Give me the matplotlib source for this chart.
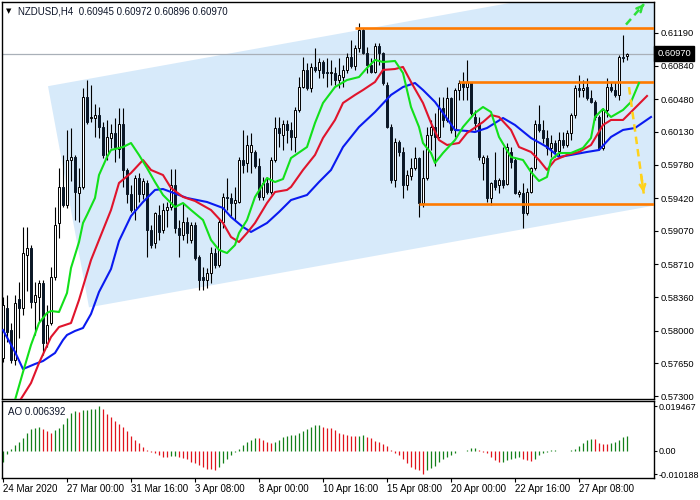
import matplotlib
matplotlib.use('Agg')
import matplotlib.pyplot as plt
from matplotlib.patches import Polygon

plt.rcParams['font.family'] = ['Liberation Sans', 'DejaVu Sans']

# ---------------- data (NZDUSD H4) ----------------
opens = [.5771,.5824,.5801,.5769,.5834,.5824,.5881,.5889,.5831,.5836,
         .5851,.5787,.5808,.5858,.5915,.5954,.5935,.5983,.5986,.5948,
         .5954,.6050,.6028,.6028,.6031,.6018,.5988,.6007,.6012,.5995,
         .6021,.5972,.5947,.5929,.5964,.5946,.5958,.5908,.5894,.5924,
         .5908,.5929,.5932,.5956,.5910,.5903,.5916,.5897,.5913,.5879,
         .5857,.5854,.5862,.5883,.5870,.5916,.5943,.5942,.5937,.5938,
         .5983,.5980,.5992,.5992,.5976,.5943,.5958,.5949,.5983,.6017,
         .6010,.6021,.6015,.6008,.6036,.6061,.6079,.6060,.6083,.6079,
         .6088,.6077,.6076,.6076,.6069,.6072,.6079,.6093,.6084,.6103,
         .6122,.6098,.6085,.6077,.6105,.6098,.6063,.6018,.5962,.6002,
         .5991,.5956,.5966,.5974,.5985,.5937,.5964,.6010,.6018,.6008,
         .6039,.6026,.6049,.6015,.6058,.6065,.6061,.6066,.6029,.6023,
         .5980,.5985,.5942,.5961,.5956,.5961,.5957,.5991,.5983,.5946,
         .5948,.5926,.5949,.5974,.6021,.6015,.6007,.5996,.6001,.5993,
         .6004,.5999,.6012,.6031,.6060,.6058,.6061,.6049,.6045,.6029,
         .5996,.6036,.6061,.6058,.6053,.6093,.60945]
highs = [.5836,.5838,.5808,.5838,.5852,.5911,.5911,.5892,.5852,.5854,
         .5854,.5827,.5868,.5933,.5974,.5988,.6015,.6017,.5988,.5974,
         .6060,.6069,.6063,.6043,.6040,.6024,.6026,.6021,.6028,.6039,
         .6039,.5974,.5956,.5967,.5969,.5964,.5962,.5913,.5927,.5935,
         .5937,.5938,.5973,.5973,.5919,.5937,.5922,.5916,.5916,.5881,
         .5868,.5867,.5890,.5889,.5921,.5948,.5964,.5948,.5954,.5986,
         .6015,.6010,.6012,.5994,.5985,.5965,.5965,.5986,.6029,.6029,
         .6026,.6026,.6024,.6040,.6072,.6093,.6087,.6087,.6103,.6092,
         .6090,.6092,.6090,.6083,.6092,.6085,.6098,.6112,.6106,.6130,
         .6124,.6104,.6092,.6108,.6108,.6099,.6066,.6021,.6007,.6004,
         .5997,.5972,.5985,.5997,.5986,.5994,.6018,.6026,.6033,.6050,
         .6050,.6061,.6050,.6060,.6069,.6077,.6090,.6067,.6036,.6029,
         .5988,.5988,.5959,.5992,.5964,.5997,.6001,.5997,.5986,.5951,
         .5958,.5953,.5975,.6026,.6042,.6026,.6015,.6010,.6004,.6013,
         .6013,.6015,.6033,.6063,.6074,.6069,.6071,.6058,.6047,.6031,
         .6039,.6071,.6066,.6067,.6095,.6117,.60972]
lows = [.5766,.5788,.5765,.5763,.5792,.5817,.5842,.5824,.5795,.5809,
        .5774,.5783,.5806,.5854,.5899,.5933,.5931,.5960,.5919,.5916,
        .5952,.6021,.6024,.6008,.6007,.5985,.5983,.5996,.5981,.5985,
        .5954,.5937,.5927,.5919,.5938,.5941,.5879,.5889,.5889,.5897,
        .5905,.5911,.5929,.5905,.5879,.5897,.5894,.5894,.5876,.5844,
        .5844,.5846,.5851,.5867,.5868,.5910,.5929,.5923,.5919,.5937,
        .5969,.5970,.5969,.5974,.5940,.5940,.5947,.5946,.5981,.5997,
        .5994,.6001,.5994,.5991,.6034,.6060,.6058,.6056,.6077,.6071,
        .6071,.6061,.6063,.6063,.6060,.6061,.6076,.6082,.6079,.6099,
        .6096,.6076,.6076,.6076,.6085,.6063,.6017,.5958,.5954,.5987,
        .5942,.5951,.5962,.5972,.5922,.5933,.5962,.5994,.5976,.6006,
        .6018,.6024,.6012,.6008,.6047,.6047,.6047,.6031,.6015,.5983,
        .5962,.5938,.5935,.5951,.5948,.5953,.5956,.5974,.5946,.5943,
        .5910,.5924,.5948,.5972,.6013,.6001,.5988,.5986,.5986,.5986,
        .5996,.5997,.6004,.6028,.6050,.6050,.6047,.6044,.6026,.5994,
        .5994,.6029,.6056,.6050,.6047,.6088,.60896]
closes = [.5827,.5799,.5769,.5830,.5824,.5883,.5889,.5831,.5838,.5851,
          .5787,.5806,.5858,.5913,.5954,.5935,.5983,.5986,.5949,.5954,
          .6050,.6024,.6029,.6031,.6018,.5988,.6008,.6012,.5997,.6021,
          .5972,.5946,.5929,.5964,.5946,.5960,.5908,.5892,.5926,.5906,
          .5929,.5933,.5956,.5910,.5903,.5916,.5905,.5913,.5878,.5854,
          .5854,.5862,.5883,.5870,.5916,.5943,.5942,.5937,.5940,.5983,
          .5978,.5999,.5999,.5976,.5943,.5958,.5949,.5983,.6017,.6012,
          .6021,.6015,.6008,.6036,.6061,.6079,.6060,.6083,.6079,.6088,
          .6076,.6076,.6077,.6069,.6074,.6079,.6093,.6084,.6103,.6122,
          .6098,.6085,.6077,.6105,.6098,.6065,.6018,.5962,.6002,.5991,
          .5956,.5967,.5974,.5985,.5937,.5964,.6010,.6018,.6008,.6039,
          .6026,.6049,.6015,.6058,.6065,.6061,.6066,.6033,.6023,.5986,
          .5986,.5942,.5958,.5954,.5961,.5956,.5997,.5981,.5948,.5949,
          .5926,.5949,.5974,.6021,.6015,.6007,.5996,.6001,.5993,.6004,
          .5999,.6012,.6031,.6060,.6058,.6060,.6049,.6045,.6029,.5996,
          .6036,.6061,.6058,.6053,.6093,.6092,.60970]

# Alligator lines (bar index, value)
jaw_idx = [0,3,5,8,10,13,15,16,18,20,22,24,27,29,32,35,38,40,42,46,51,55,57,60,62,66,69,72,76,79,
           82,85,89,93,97,100,103,105,108,110,113,116,118,121,125,128,132,136,139,142,146,149,152,155,158,162]
jaw_val = [.58007,.57772,.57589,.57643,.57675,.57761,.57900,.57954,.57997,.58029,.58179,.58415,.58661,
           .58961,.59229,.59379,.59508,.59518,.59486,.59422,.59379,.59315,.59218,.59111,.59058,.59154,
           .59272,.59400,.59454,.59593,.59722,.59968,.60183,.60343,.60526,.60611,.60654,.60579,.60451,
           .60333,.60151,.60140,.60129,.60172,.60279,.60204,.60065,.59968,.59861,.59883,.59915,.59936,
           .60076,.60151,.60172,.60290]
teeth_idx = [4,7,9,12,14,17,19,22,24,27,29,32,35,37,40,42,45,48,52,55,57,59,61,63,66,68,71,72,75,78,
             80,83,85,88,90,93,95,98,100,102,105,107,109,111,114,116,120,122,124,127,129,132,134,136,
             138,141,144,147,150,152,155,157,161]
teeth_val = [.57236,.57439,.57654,.57932,.58039,.58082,.58329,.58757,.58972,.59293,.59583,.59690,.59829,
             .59722,.59668,.59529,.59433,.59390,.59293,.59154,.59004,.58950,.59047,.59154,.59368,.59486,
             .59508,.59540,.59722,.59883,.60065,.60258,.60440,.60526,.60579,.60665,.60794,.60804,.60826,
             .60665,.60440,.60226,.60043,.59990,.60011,.60118,.60236,.60311,.60290,.60151,.59968,.59915,
             .59829,.59722,.59829,.59883,.59915,.59990,.60204,.60258,.60258,.60343,.60515]
lips_idx = [3,5,7,9,11,12,14,16,17,19,20,21,23,24,26,27,30,32,34,36,38,40,43,45,47,50,52,54,56,58,
            59,61,63,66,68,70,72,76,78,80,83,86,89,91,93,95,98,100,102,104,105,107,108,110,113,115,
            118,120,122,124,127,130,132,134,136,137,139,142,145,147,148,150,152,155,157,159]
lips_val = [.57257,.57557,.57847,.58082,.58190,.58211,.58200,.58404,.58672,.58950,.59154,.59240,.59422,
            .59668,.59861,.59936,.59968,.60011,.59883,.59743,.59593,.59454,.59325,.59368,.59293,.59186,
            .58972,.58865,.58832,.58918,.59047,.59186,.59433,.59636,.59593,.59625,.59850,.59968,.60226,
            .60440,.60611,.60686,.60718,.60815,.60901,.60879,.60890,.60761,.60397,.60183,.60011,.59904,
            .59797,.59904,.60043,.60183,.60333,.60397,.60343,.60076,.59861,.59829,.59700,.59604,.59647,
            .59829,.59904,.59904,.59958,.60065,.60290,.60376,.60290,.60365,.60451,.60654]

# Awesome Oscillator
ao_values = [-0.0047,-0.0013,0.0009,0.0028,0.0041,0.0055,0.0077,0.0095,0.0102,0.0106,
             0.0098,0.0088,0.0077,0.0091,0.0102,0.0116,0.0145,0.0166,0.0176,0.0170,
             0.0177,0.0180,0.0183,0.0184,0.019467,0.0184,0.0163,0.0147,0.0130,0.0119,
             0.0106,0.0085,0.0064,0.0050,0.0034,0.0017,0.0003,-0.0004,-0.0009,-0.0018,
             -0.0026,-0.0028,-0.0023,-0.0021,-0.0026,-0.0030,-0.0037,-0.0047,-0.0054,-0.0061,
             -0.0068,-0.0077,-0.0079,-0.0085,-0.0071,-0.0054,-0.0033,-0.0018,-0.0004,0.0010,
             0.0024,0.0038,0.0050,0.0057,0.0055,0.0048,0.0038,0.0034,0.0041,0.0050,
             0.0060,0.0067,0.0069,0.0070,0.0077,0.0088,0.0098,0.0106,0.0112,0.0113,
             0.0106,0.0102,0.0101,0.0091,0.0078,0.0074,0.0070,0.0067,0.0066,0.0067,
             0.0071,0.0062,0.0055,0.0045,0.0041,0.0031,0.0021,0.0006,-0.0009,-0.0018,
             -0.0033,-0.0054,-0.0071,-0.0079,-0.0085,-0.010188,-0.0085,-0.0075,-0.0064,-0.0047,
             -0.0033,-0.0026,-0.0016,-0.0009,-0.0002,0.0001,0.0006,0.0014,0.0015,0.0006,
             -0.0004,-0.0011,-0.0028,-0.0040,-0.0047,-0.0046,-0.0040,-0.0033,-0.0030,-0.0026,
             -0.0033,-0.0040,-0.0043,-0.0033,-0.0018,-0.0009,-0.0004,0.0003,0.0004,0.0002,
             0.0001,0.00005,0.0003,0.0010,0.0021,0.0035,0.0048,0.0052,0.0051,0.0034,
             0.0031,0.0030,0.0034,0.0038,0.0050,0.0062,0.006392]

date_ticks = [0, 16, 32, 48, 64, 80, 96, 112, 128, 144]
date_labels = ['24 Mar 2020', '27 Mar 00:00', '31 Mar 16:00', '3 Apr 08:00', '8 Apr 00:00',
               '10 Apr 16:00', '15 Apr 08:00', '20 Apr 00:00', '22 Apr 16:00', '27 Apr 08:00']
price_ticks = [0.61190, 0.60840, 0.60480, 0.60130, 0.59780, 0.59420,
               0.59070, 0.58710, 0.58360, 0.58000, 0.57650, 0.57300]
ao_ticks = [0.019467, 0.0, -0.010188]
ao_tick_labels = ['0.019467', '0.00', '-0.010188']

level_values = [0.6124, 0.6067, 0.5936]
level_start = [88, 114, 104]
channel_x = [11.25, 21.5, 220, 220]
channel_y = [0.6062, 0.5825, 0.59782, 0.62232]
arrow_up = [(155.75, 0.6128), (160.25, 0.6150)]
arrow_down = [(156.5, 0.6061), (160.25, 0.5945)]
last_price = 0.60970
header = 'NZDUSD,H4  0.60945 0.60972 0.60896 0.60970'

# ---------------- figure ----------------
W, H = 700, 500
fig = plt.figure(figsize=(7, 5), dpi=100)
ax = fig.add_axes([2/W, 1-399/H, 652/W, 397/H])
ax2 = fig.add_axes([2/W, 1-478/H, 652/W, 77/H])

XL = (-0.25, 162.75)
n = len(closes)
idx = list(range(n))

# channel
ax.add_patch(Polygon(list(zip(channel_x, channel_y)), closed=True,
                     facecolor='#d7eafa', edgecolor='none', zorder=0))
# bid line
ax.axhline(last_price, color='#a9b0b8', lw=0.9, zorder=1)

# candles
ax.vlines(idx, lows, highs, colors='#000000', lw=0.8, zorder=2)
bull = [i for i in idx if closes[i] >= opens[i]]
bear = [i for i in idx if closes[i] < opens[i]]
ax.bar(bull, [max(closes[i]-opens[i], 0.00002) for i in bull],
       bottom=[opens[i] for i in bull], width=0.72, color='white',
       edgecolor='#000000', linewidth=0.7, zorder=3)
ax.bar(bear, [opens[i]-closes[i] for i in bear],
       bottom=[closes[i] for i in bear], width=0.72, color='#0b1726',
       edgecolor='#0b1726', linewidth=0.7, zorder=3)

# horizontal levels
for v, s in zip(level_values, level_start):
    ax.plot([s, XL[1] + 1], [v, v], color='#ff7a00', lw=1.9, zorder=4,
            solid_capstyle='butt')

# alligator
ax.plot(jaw_idx, jaw_val, color='#0a1af0', lw=1.5, zorder=5)
ax.plot(teeth_idx, teeth_val, color='#e0142c', lw=1.5, zorder=5)
ax.plot(lips_idx, lips_val, color='#12e01a', lw=1.5, zorder=5)

# arrows
for pts, col in ((arrow_up, '#2ee03a'), (arrow_down, '#ffd21a')):
    (x0, y0), (x1, y1) = pts
    ax.plot([x0, x1], [y0, y1], color=col, lw=1.8, ls=(0, (3, 2)), zorder=6)
    ax.annotate('', xy=(x1, y1), xytext=(x0 + (x1-x0)*0.8, y0 + (y1-y0)*0.8),
                arrowprops=dict(arrowstyle='->', color=col, lw=1.8, mutation_scale=10),
                zorder=6)

ax.set_xlim(*XL)
ax.set_ylim(0.57268, 0.61522)
ax.set_xticks([])
ax.yaxis.tick_right()
ax.set_yticks(price_ticks)
ax.set_yticklabels([f'{v:.5f}' for v in price_ticks])
ax.tick_params(axis='y', length=3, width=0.8, pad=1.5, labelsize=6.7, colors='black')
for sp in ax.spines.values():
    sp.set_linewidth(1.0)
    sp.set_color('black')

ax.text(0.006, 0.977, '▼', transform=ax.transAxes, fontsize=5, va='center',
        ha='left', color='#000000', family=['DejaVu Sans'])
ax.text(0.0245, 0.977, header, transform=ax.transAxes, fontsize=7,
        va='center', ha='left', color='#0c1428')

# current price box
ax.text(1.005, last_price, f'{last_price:.5f}', transform=ax.get_yaxis_transform(),
        fontsize=6.7, va='center', ha='left', color='white',
        bbox=dict(boxstyle='square,pad=0.3', facecolor='black', edgecolor='black'),
        zorder=10, clip_on=False)

# AO panel
cols = []
for i, v in enumerate(ao_values):
    if i == 0 or v > ao_values[i-1]:
        cols.append('#14801a')
    else:
        cols.append('#e0141c')
ax2.vlines(idx, 0, ao_values, colors=cols, lw=0.9)
ax2.set_xlim(*XL)
ax2.set_ylim(-0.0118, 0.0218)
ax2.yaxis.tick_right()
ax2.set_yticks(ao_ticks)
ax2.set_yticklabels(ao_tick_labels)
ax2.tick_params(axis='y', length=2, width=0.8, pad=1, labelsize=6.5)
ax2.set_xticks(date_ticks)
ax2.set_xticklabels(date_labels)
for lab in ax2.get_xticklabels():
    lab.set_ha('left')
ax2.tick_params(axis='x', length=3, width=0.8, pad=1.5, labelsize=7)
for sp in ax2.spines.values():
    sp.set_linewidth(1.0)
    sp.set_color('black')
ax2.text(0.009, 0.86, 'AO 0.006392', transform=ax2.transAxes, fontsize=7,
         va='center', ha='left', color='#0c1428')

fig.savefig('out.png', dpi=100)
